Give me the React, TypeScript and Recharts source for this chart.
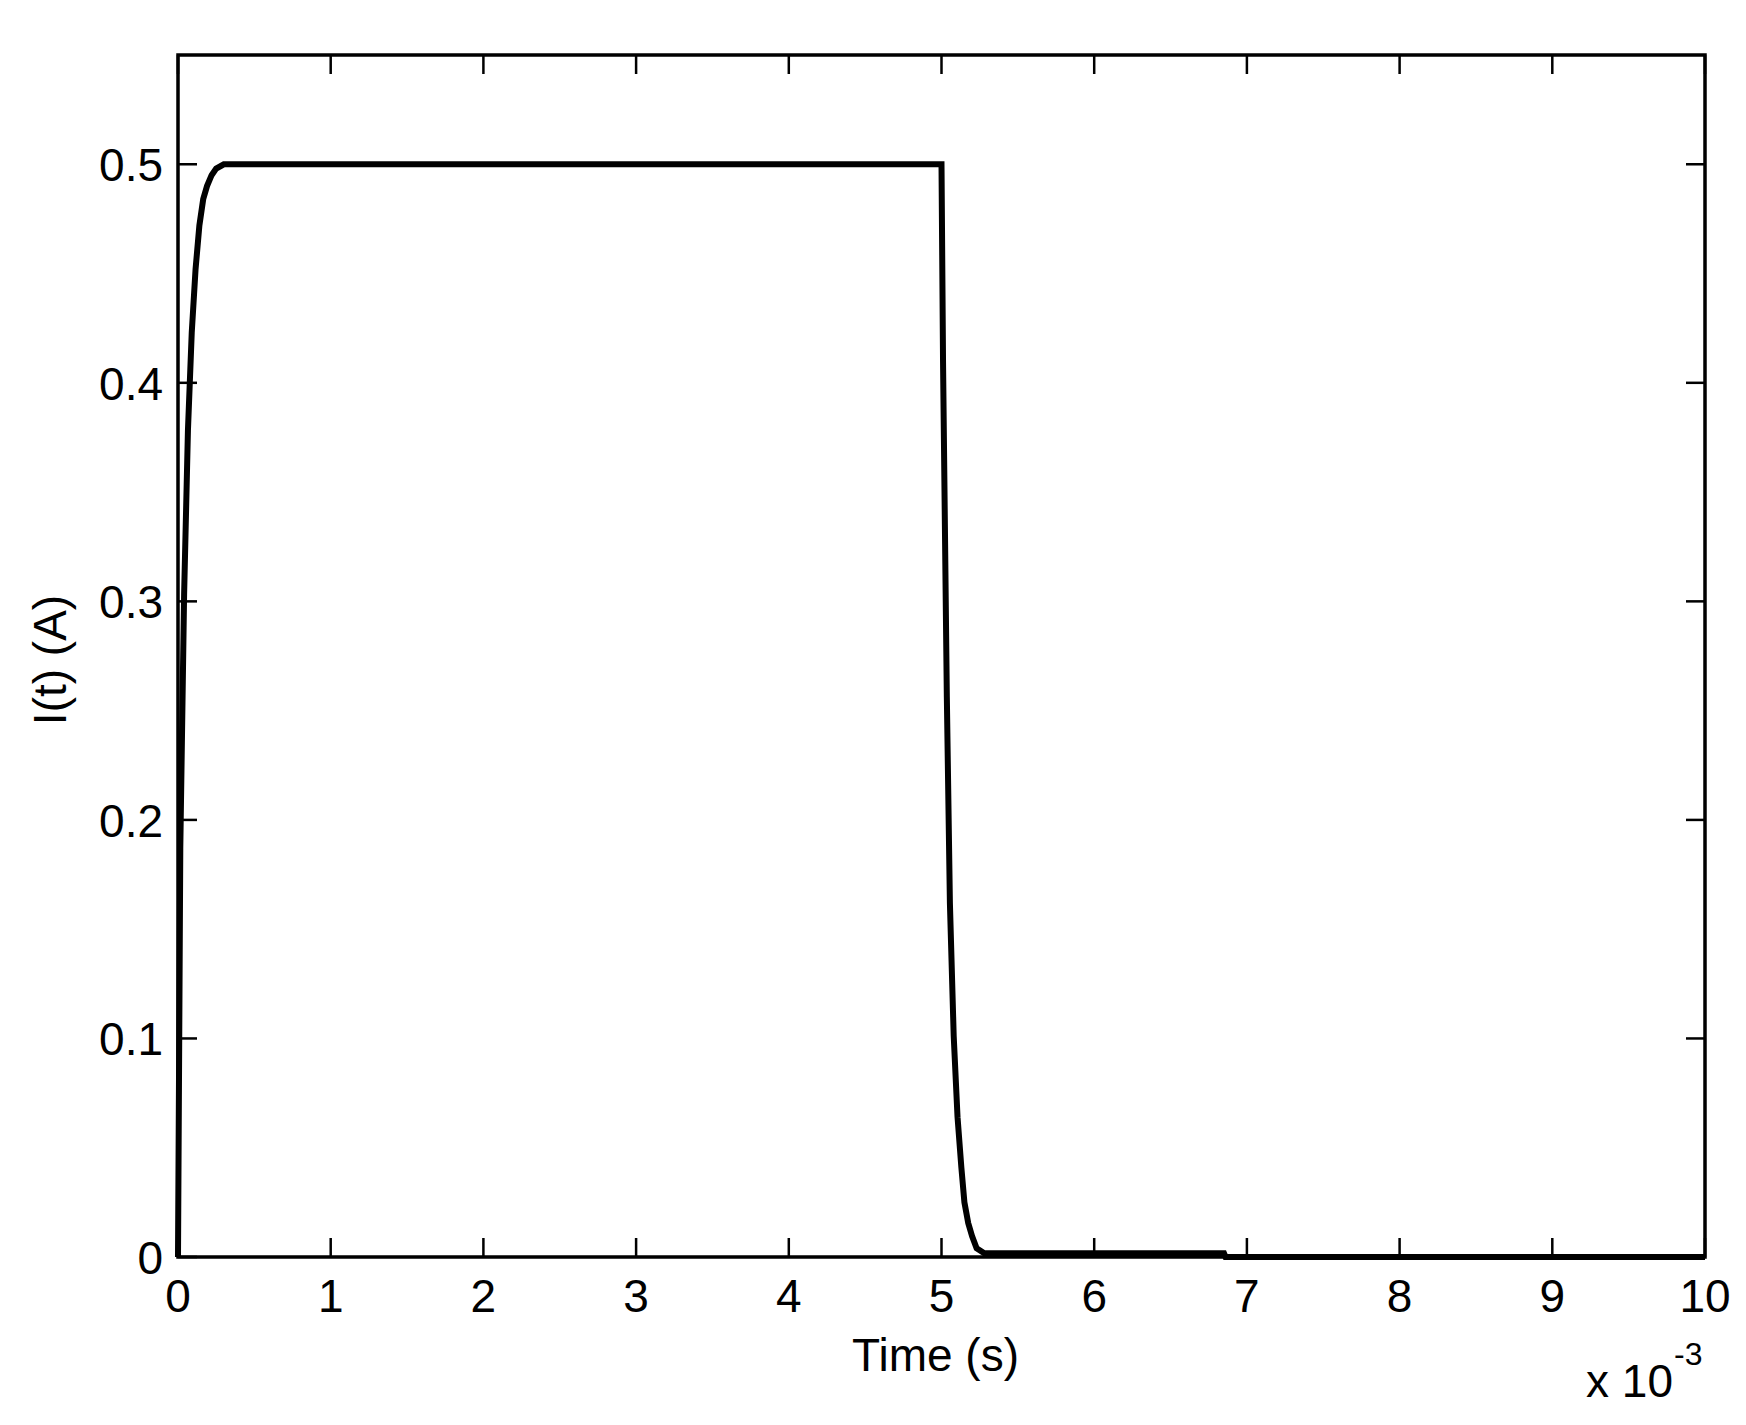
import { LineChart, Line, XAxis, YAxis, ReferenceArea, Label } from "recharts";

// ─── Data ─────────────────────────────────────────────────────────────────────
// time in ms (axis shows x 10^-3 s), current in A

const TIME_MS = [
  0, 0.015, 0.04, 0.065, 0.09, 0.115, 0.14, 0.165, 0.19, 0.22, 0.25, 0.3,
  5.0, 5.01, 5.035, 5.055, 5.08, 5.105, 5.13, 5.15, 5.175, 5.2, 5.23, 5.28,
  6.85, 6.86, 10,
];
const CURRENT_A = [
  0, 0.187, 0.303, 0.378, 0.423, 0.452, 0.472, 0.484, 0.49, 0.495, 0.498, 0.5,
  0.5, 0.41, 0.256, 0.162, 0.101, 0.064, 0.041, 0.025, 0.0155, 0.0096, 0.004,
  0.0017, 0.0017, 0, 0,
];

const X_TICKS = [0, 1, 2, 3, 4, 5, 6, 7, 8, 9, 10];
const Y_TICKS = [0, 0.1, 0.2, 0.3, 0.4, 0.5];

const X_LABEL = "Time (s)";
const Y_LABEL = "I(t) (A)";

// ─── Layout ───────────────────────────────────────────────────────────────────

const W = 1746;
const H = 1425;
const PLOT_LEFT = 178;
const PLOT_RIGHT = 1705;
const PLOT_TOP = 55;
const PLOT_BOTTOM = 1257;
const TICK_LEN = 19;

const FONT = {
  fontFamily: "'Liberation Sans', Arial, sans-serif",
  fontSize: 46,
  fill: "#000",
};

// inward ticks on both sides of the box, labels outside
function XTick(props: any) {
  const { x, payload } = props;
  return (
    <g>
      <line x1={x} x2={x} y1={PLOT_BOTTOM} y2={PLOT_BOTTOM - TICK_LEN} stroke="#000" strokeWidth={2.5} />
      <line x1={x} x2={x} y1={PLOT_TOP} y2={PLOT_TOP + TICK_LEN} stroke="#000" strokeWidth={2.5} />
      <text x={x} y={PLOT_BOTTOM + 55} textAnchor="middle" style={FONT}>
        {String(payload.value)}
      </text>
    </g>
  );
}

function YTick(props: any) {
  const { y, payload } = props;
  return (
    <g>
      <line x1={PLOT_LEFT} x2={PLOT_LEFT + TICK_LEN} y1={y} y2={y} stroke="#000" strokeWidth={2.5} />
      <line x1={PLOT_RIGHT} x2={PLOT_RIGHT - TICK_LEN} y1={y} y2={y} stroke="#000" strokeWidth={2.5} />
      <text x={PLOT_LEFT - 15} y={y + 17} textAnchor="end" style={FONT}>
        {String(payload.value)}
      </text>
    </g>
  );
}

export default function App() {
  const data = TIME_MS.map((t, k) => ({ t, i: CURRENT_A[k] }));

  return (
    <div style={{ position: "absolute", left: 0, top: 0, width: W, height: H, background: "#fff" }}>
      <LineChart
        width={W}
        height={H}
        data={data}
        margin={{ top: PLOT_TOP, right: W - PLOT_RIGHT, left: 0, bottom: 0 }}
      >
        <XAxis
          dataKey="t"
          type="number"
          domain={[0, 10]}
          ticks={X_TICKS}
          interval={0}
          height={H - PLOT_BOTTOM}
          axisLine={false}
          tickLine={false}
          tick={<XTick />}
        >
          <Label
            content={({ viewBox }: any) => (
              <text
                x={viewBox.x + viewBox.width / 2 - 6}
                y={viewBox.y + 114}
                textAnchor="middle"
                style={FONT}
              >
                {X_LABEL}
              </text>
            )}
          />
          <Label
            content={({ viewBox }: any) => (
              <g>
                <text x={viewBox.x + viewBox.width - 32} y={viewBox.y + 140} textAnchor="end" style={FONT}>
                  x 10
                </text>
                <text x={viewBox.x + viewBox.width - 31} y={viewBox.y + 108} textAnchor="start" style={{ ...FONT, fontSize: 32 }}>
                  -3
                </text>
              </g>
            )}
          />
        </XAxis>
        <YAxis
          type="number"
          domain={[0, 0.55]}
          ticks={Y_TICKS}
          interval={0}
          width={PLOT_LEFT}
          axisLine={false}
          tickLine={false}
          tick={<YTick />}
        >
          <Label
            content={({ viewBox }: any) => (
              <text
                x={50}
                y={viewBox.y + viewBox.height / 2 + 4}
                textAnchor="middle"
                dominantBaseline="central"
                transform={`rotate(-90, 50, ${viewBox.y + viewBox.height / 2 + 4})`}
                style={FONT}
              >
                {Y_LABEL}
              </text>
            )}
          />
        </YAxis>

        {/* axes box */}
        <ReferenceArea
          x1={0}
          x2={10}
          y1={0}
          y2={0.55}
          fill="none"
          stroke="#000"
          strokeWidth={3.5}
          ifOverflow="visible"
        />

        <Line
          type="linear"
          dataKey="i"
          stroke="#000"
          strokeWidth={6}
          dot={false}
          activeDot={false}
          isAnimationActive={false}
        />
      </LineChart>
    </div>
  );
}
